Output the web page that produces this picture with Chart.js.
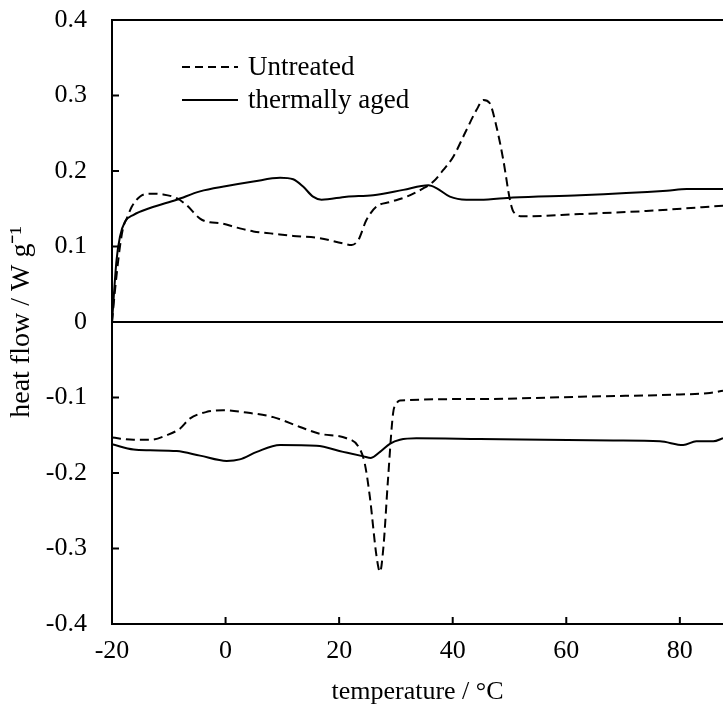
<!DOCTYPE html>
<html>
<head>
<meta charset="utf-8">
<script src="https://cdn.jsdelivr.net/npm/chart.js@4/dist/chart.umd.min.js"></script>
<style>
  html, body { margin: 0; padding: 0; background: #fff; overflow: hidden; }
  #wrap { width: 723px; height: 708px; }
</style>
</head>
<body>
<div id="wrap"><canvas id="dsc_chart" width="723" height="708"></canvas></div>
<script>
// series names
const seriesNames = ["Untreated", "thermally aged"];

// untreated, heating (upper dashed)
const untreatedHeatT = [-20, -19.5, -18.6, -18.0, -17.4, -16.5, -15.1, -13.3, -11.0, -8.6, -6.9, -4.5, -2.75, -1.0, 2.0, 4.9, 8.4, 11.9, 16.6, 20.7, 22.2, 23.4, 24.8, 26.6, 29.0, 31.9, 34.8, 36.6, 38.3, 40.1, 42.4, 44.2, 45.4, 46.5, 47.7, 48.9, 50.1, 50.7, 52.4, 62.4, 74.1, 87.6];
const untreatedHeatF = [0, 0.04, 0.10, 0.126, 0.137, 0.153, 0.166, 0.170, 0.169, 0.164, 0.155, 0.137, 0.132, 0.131, 0.125, 0.120, 0.117, 0.114, 0.111, 0.104, 0.102, 0.109, 0.135, 0.153, 0.159, 0.166, 0.177, 0.186, 0.201, 0.219, 0.254, 0.281, 0.294, 0.290, 0.259, 0.215, 0.161, 0.146, 0.140, 0.143, 0.147, 0.154];

// thermally aged, heating (upper solid)
const agedHeatT = [-20, -19.2, -18.6, -17.7, -16.2, -13.3, -8.6, -4.5, 0.2, 4.9, 9.6, 11.9, 13.7, 15.4, 16.9, 21.3, 26.0, 31.3, 35.7, 37.2, 39.5, 42.4, 44.8, 50.6, 62.4, 77.7, 81.2, 87.6];
const agedHeatF = [0, 0.082, 0.113, 0.133, 0.142, 0.151, 0.162, 0.173, 0.180, 0.186, 0.191, 0.189, 0.179, 0.166, 0.162, 0.166, 0.168, 0.175, 0.181, 0.177, 0.166, 0.162, 0.162, 0.165, 0.168, 0.174, 0.176, 0.176];

// untreated, cooling (lower dashed)
const untreatedCoolT = [-20, -16.2, -13.3, -10.4, -8.0, -6.3, -3.3, -0.4, 3.7, 8.4, 13.1, 16.6, 21.3, 23.4, 24.5, 25.4, 26.6, 27.2, 27.8, 28.6, 29.5, 30.1, 30.7, 44.8, 62.4, 80.0, 85.3, 87.6];
const untreatedCoolF = [-0.153, -0.156, -0.156, -0.150, -0.141, -0.128, -0.119, -0.117, -0.120, -0.126, -0.139, -0.148, -0.154, -0.165, -0.187, -0.231, -0.311, -0.331, -0.298, -0.209, -0.121, -0.108, -0.104, -0.102, -0.099, -0.096, -0.094, -0.091];

// thermally aged, cooling (lower solid)
const agedCoolT = [-20, -16.2, -13.3, -8.6, -4.5, 0.2, 2.5, 5.5, 9.6, 16.0, 20.7, 24.3, 25.6, 27.2, 29.0, 30.7, 33.6, 44.8, 68.3, 76.5, 80.6, 82.9, 85.9, 87.6];
const agedCoolF = [-0.162, -0.169, -0.170, -0.171, -0.177, -0.184, -0.182, -0.172, -0.163, -0.164, -0.172, -0.178, -0.180, -0.172, -0.161, -0.156, -0.154, -0.155, -0.157, -0.158, -0.163, -0.158, -0.158, -0.154];

// axis ranges / ticks
const xMin = -20, xMax = 87.6, xStep = 20;
const yMin = -0.4, yMax = 0.4, yStep = 0.1;

const FONT = "'Liberation Serif', 'Times New Roman', serif";
const DASH = [9, 5];

function toPoints(xs, ys) {
  return xs.map((x, i) => ({ x: x, y: ys[i] }));
}

function lineSet(label, xs, ys, dashed) {
  return {
    label: label,
    data: toPoints(xs, ys),
    borderColor: "#000",
    borderWidth: 2,
    borderDash: dashed ? DASH : [],
    pointRadius: 0,
    fill: false,
    cubicInterpolationMode: "monotone",
  };
}

// frame, zero line, inward ticks and the legend
const framePlugin = {
  id: "frame",
  afterDatasetsDraw(chart) {
    const c = chart.ctx;
    const a = chart.chartArea;
    const xs = chart.scales.x;
    const ys = chart.scales.y;
    c.save();
    c.strokeStyle = "#000";
    c.lineWidth = 2;
    c.setLineDash([]);
    // top line
    c.beginPath();
    c.moveTo(a.left, a.top);
    c.lineTo(a.right, a.top);
    c.stroke();
    // zero line
    const y0 = ys.getPixelForValue(0);
    c.beginPath();
    c.moveTo(a.left, y0);
    c.lineTo(a.right, y0);
    c.stroke();
    // inward ticks
    ys.ticks.forEach((t) => {
      const py = ys.getPixelForValue(t.value);
      c.beginPath();
      c.moveTo(a.left, py);
      c.lineTo(a.left + 7, py);
      c.stroke();
    });
    xs.ticks.forEach((t) => {
      const px = xs.getPixelForValue(t.value);
      c.beginPath();
      c.moveTo(px, a.bottom);
      c.lineTo(px, a.bottom - 7);
      c.stroke();
    });
    // legend
    const lx = a.left + 70, ly = a.top + 47, gap = 33;
    c.font = "27px " + FONT;
    c.fillStyle = "#000";
    c.textBaseline = "middle";
    [true, false].forEach((dashed, i) => {
      const yy = ly + i * gap;
      c.setLineDash(dashed ? [8, 5] : []);
      c.beginPath();
      c.moveTo(lx, yy);
      c.lineTo(lx + 56, yy);
      c.stroke();
      c.setLineDash([]);
      c.fillText(seriesNames[i], lx + 66, yy + 1);
    });
    c.restore();
  },
};

const dsc_ctx = document.getElementById("dsc_chart");

const dsc_chart = new Chart(dsc_ctx, {
  type: "line",
  data: {
    datasets: [
      lineSet(seriesNames[0], untreatedHeatT, untreatedHeatF, true),
      lineSet(seriesNames[1], agedHeatT, agedHeatF, false),
      lineSet(seriesNames[0], untreatedCoolT, untreatedCoolF, true),
      lineSet(seriesNames[1], agedCoolT, agedCoolF, false),
    ],
  },
  options: {
    responsive: false,
    animation: false,
    layout: { padding: { top: 20, right: 0, bottom: 0, left: 0 } },
    plugins: {
      legend: { display: false },
      tooltip: { enabled: false },
    },
    scales: {
      x: {
        type: "linear",
        min: xMin,
        max: xMax,
        afterFit(scale) {
          scale.height = 84;
          scale.paddingLeft = 0;
          scale.paddingRight = 0;
        },
        ticks: {
          stepSize: xStep,
          includeBounds: false,
          color: "#000",
          padding: 12,
          maxRotation: 0,
          font: { family: FONT, size: 26 },
        },
        grid: { display: false, drawTicks: false },
        border: { display: true, color: "#000", width: 2 },
        title: {
          display: true,
          text: "temperature / \u00B0C",
          color: "#000",
          font: { family: FONT, size: 26 },
          padding: { top: 0, bottom: 0 },
        },
      },
      y: {
        min: yMin,
        max: yMax,
        afterFit(scale) {
          scale.width = 112;
          scale.paddingTop = 0;
          scale.paddingBottom = 0;
        },
        ticks: {
          stepSize: yStep,
          color: "#000",
          padding: 25,
          font: { family: FONT, size: 26 },
          callback: (v) => Number(v.toFixed(1)).toString(),
        },
        grid: { display: false, drawTicks: false },
        border: { display: true, color: "#000", width: 2 },
        title: {
          display: true,
          text: "heat flow / W g\u207B\u00B9",
          color: "#000",
          font: { family: FONT, size: 28 },
          padding: { top: 5, bottom: 0 },
        },
      },
    },
  },
  plugins: [framePlugin],
});
</script>
</body>
</html>
